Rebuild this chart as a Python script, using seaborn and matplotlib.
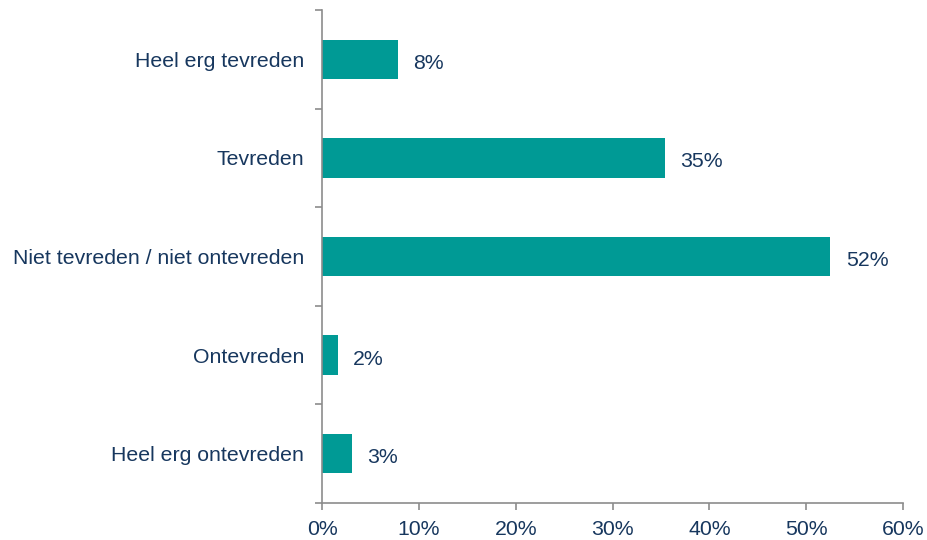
import pandas as pd
import numpy as np
import matplotlib.pyplot as plt
import seaborn as sns
from matplotlib.ticker import FixedLocator, PercentFormatter

# data
categories = [
    "Heel erg tevreden",
    "Tevreden",
    "Niet tevreden / niet ontevreden",
    "Ontevreden",
    "Heel erg ontevreden",
]
values = [7.8, 35.4, 52.5, 1.6, 3.1]
labels = ["8%", "35%", "52%", "2%", "3%"]

df = pd.DataFrame({"category": categories, "value": values})

bar_color = "#009A95"
text_color = "#17375E"
spine_color = "#8C8C8C"

sns.set_style("white")
plt.rcParams["font.family"] = ["Liberation Sans", "DejaVu Sans"]

fig = plt.figure(figsize=(9.27, 5.4), dpi=100)
ax = fig.add_axes([0.3474, 0.0685, 0.6267, 0.913])

sns.barplot(data=df, x="value", y="category", orient="h", color=bar_color,
            width=0.4, saturation=1, linewidth=0, ax=ax)

# value labels
for i, (v, lab) in enumerate(zip(values, labels)):
    ax.text(v + 1.6, i + 0.02, lab, va="center_baseline", ha="left", fontsize=15.3, color=text_color)

ax.set_xlim(0, 60)
ax.set_ylim(4.5, -0.5)
ax.xaxis.set_major_locator(FixedLocator(np.arange(0, 61, 10)))
ax.xaxis.set_major_formatter(PercentFormatter(decimals=0))
ax.set_xlabel("")
ax.set_ylabel("")

# category ticks between bars
ax.yaxis.set_minor_locator(FixedLocator(np.arange(-0.5, 5, 1)))
ax.tick_params(axis="y", which="major", left=True, length=0, pad=13, labelsize=15.3, labelcolor=text_color)
ax.tick_params(axis="y", which="minor", left=True, length=5, width=1.2, color=spine_color, direction="out")
ax.tick_params(axis="x", which="major", bottom=True, length=5, width=1.2, color=spine_color, direction="out",
               labelsize=15.3, labelcolor=text_color, pad=7)

for side in ["top", "right"]:
    ax.spines[side].set_visible(False)
for side in ["left", "bottom"]:
    ax.spines[side].set_color(spine_color)
    ax.spines[side].set_linewidth(1.2)

plt.savefig("out.png", dpi=100)
plt.close()
